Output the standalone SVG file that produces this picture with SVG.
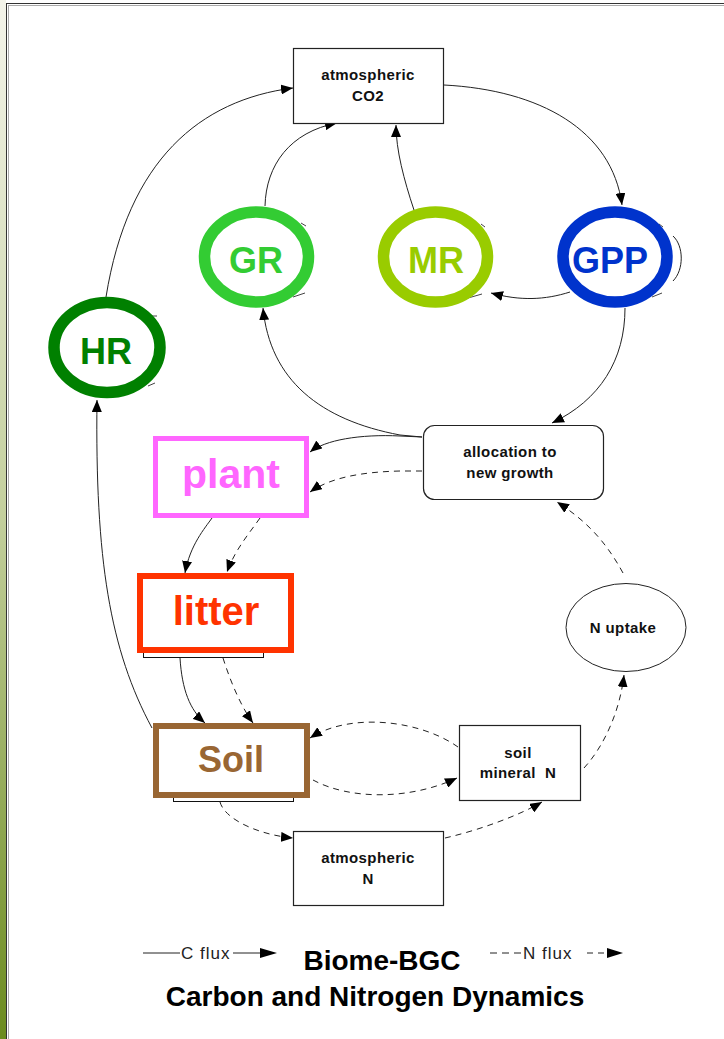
<svg xmlns="http://www.w3.org/2000/svg" width="724" height="1039" viewBox="0 0 724 1039">
<defs>
<linearGradient id="strip" x1="0" y1="0" x2="0" y2="1">
<stop offset="0" stop-color="#f4f4ea"/>
<stop offset="0.5" stop-color="#c3cf9c"/>
<stop offset="1" stop-color="#6b8b1e"/>
</linearGradient>
<marker id="ah" viewBox="0 0 12 10" refX="12" refY="5" markerWidth="12" markerHeight="10" markerUnits="userSpaceOnUse" orient="auto">
<path d="M0,0 L12,5 L0,10 Z" fill="#000"/>
</marker>
<style>
.box{fill:#fff;stroke:#222;stroke-width:1.2}
.sm{font-family:"Liberation Sans",Arial,sans-serif;font-weight:bold;font-size:15px;letter-spacing:0.4px;fill:#111;text-anchor:middle}
.big{font-family:"Liberation Sans",Arial,sans-serif;font-weight:bold;text-anchor:middle}
.lg{font-family:"Liberation Sans",Arial,sans-serif;font-size:17px;letter-spacing:1px;fill:#222}
.c{fill:none;stroke:#222;stroke-width:1}
.n{fill:none;stroke:#222;stroke-width:1;stroke-dasharray:6 5}
.tk{stroke:#444;stroke-width:1}
.ring{fill:#fff;stroke-width:11.5}
</style>
</defs>
<rect x="0" y="0" width="724" height="1039" fill="#fff"/>
<rect x="0" y="0" width="6" height="1039" fill="url(#strip)"/>
<rect x="6.5" y="3.5" width="730" height="1050" fill="none" stroke="#333" stroke-width="1"/>
<rect x="8.5" y="5.5" width="730" height="1050" fill="none" stroke="#aaa" stroke-width="1"/>

<g id="connectors">
<path class="c" d="M106,297 C128,160 200,100 293,88" marker-end="url(#ah)"/>
<path class="c" d="M265,206 C266,165 290,132 337,123" marker-end="url(#ah)"/>
<path class="c" d="M414,210 C404,180 396,150 396,125" marker-end="url(#ah)"/>
<path class="c" d="M444,85 C540,90 612,130 622,205" marker-end="url(#ah)"/>
<path class="c" d="M570,292 C545,300 520,301 491,293" marker-end="url(#ah)"/>
<path class="c" d="M625,308 C625,360 600,400 552,423" marker-end="url(#ah)"/>
<path class="c" d="M422,437 L400,435 C320,420 270,380 263,308" marker-end="url(#ah)"/>
<path class="c" d="M422,437 L400,436 C360,434 325,440 310,452" marker-end="url(#ah)"/>
<path class="n" d="M422,471 L400,471 C360,472 330,478 310,492" marker-end="url(#ah)"/>
<path class="c" d="M212,518 C205,528 190,545 185,573" marker-end="url(#ah)"/>
<path class="n" d="M260,518 C248,535 235,550 227,572" marker-end="url(#ah)"/>
<path class="c" d="M180,658 C182,690 190,710 205,723" marker-end="url(#ah)"/>
<path class="n" d="M223,658 C230,680 240,705 253,723" marker-end="url(#ah)"/>
<path class="c" d="M152,728 C110,650 95,560 97,400" marker-end="url(#ah)"/>
<path class="n" d="M458,747 C420,720 350,712 310,738" marker-end="url(#ah)"/>
<path class="n" d="M313,780 C350,800 410,800 457,778" marker-end="url(#ah)"/>
<path class="n" d="M220,802 C225,820 260,835 293,838" marker-end="url(#ah)"/>
<path class="n" d="M445,838 C480,830 520,815 542,802" marker-end="url(#ah)"/>
<path class="n" d="M584,768 C605,745 620,710 624,675" marker-end="url(#ah)"/>
<path class="n" d="M623,573 C605,540 585,520 557,502" marker-end="url(#ah)"/>
<path class="c" d="M673,236 C684,246 684,270 673,281"/>
<line class="tk" x1="301" y1="223" x2="306" y2="226"/>
<line class="tk" x1="293" y1="297" x2="305" y2="293"/>
<line class="tk" x1="481" y1="224" x2="485" y2="227"/>
<line class="tk" x1="468" y1="298" x2="482" y2="294"/>
<line class="tk" x1="659" y1="224" x2="663" y2="227"/>
<line class="tk" x1="652" y1="297" x2="662" y2="293"/>
<line class="tk" x1="151" y1="316" x2="157" y2="316"/>
<line class="tk" x1="148" y1="386" x2="155" y2="383"/>
</g>

<g id="atm-co2">
<rect class="box" x="293.5" y="48.5" width="150" height="75"/>
<text class="sm" x="368" y="80">atmospheric</text>
<text class="sm" x="368" y="101">CO2</text>
</g>
<g id="GR">
<ellipse class="ring" cx="256.5" cy="257" rx="52" ry="45" stroke="#33cc33"/>
<text class="big" x="256" y="273" font-size="36" fill="#33cc33">GR</text>
</g>
<g id="MR">
<ellipse class="ring" cx="435.5" cy="257" rx="52" ry="45" stroke="#99cc00"/>
<text class="big" x="436" y="273" font-size="36" fill="#99cc00">MR</text>
</g>
<g id="GPP">
<ellipse class="ring" cx="615" cy="257" rx="52" ry="45" stroke="#0033cc"/>
<text class="big" x="610" y="273" font-size="36" fill="#0033cc">GPP</text>
</g>
<g id="HR">
<ellipse class="ring" cx="107" cy="347.5" rx="53" ry="45" stroke="#008000"/>
<text class="big" x="106" y="364" font-size="36" fill="#008000">HR</text>
</g>
<g id="allocation">
<rect class="box" x="423.5" y="425.5" width="180" height="74" rx="11"/>
<text class="sm" x="510" y="457">allocation to</text>
<text class="sm" x="510" y="478">new growth</text>
</g>
<g id="plant">
<rect x="155.5" y="438.5" width="151" height="77" fill="#fff" stroke="#ff66ff" stroke-width="5"/>
<text class="big" x="231" y="488" font-size="41" fill="#ff66ff">plant</text>
</g>
<g id="litter">
<rect x="143.5" y="600.5" width="120" height="57" fill="none" stroke="#111" stroke-width="1"/>
<rect x="140" y="576" width="151" height="74" fill="#fff" stroke="#ff3300" stroke-width="6"/>
<text class="big" x="216" y="625" font-size="40" fill="#ff3300">litter</text>
</g>
<g id="soil">
<rect x="173.5" y="745.5" width="120" height="56" fill="none" stroke="#111" stroke-width="1"/>
<rect x="156" y="726" width="151" height="69" fill="#fff" stroke="#996633" stroke-width="6"/>
<text class="big" x="231" y="772" font-size="36" fill="#996633">Soil</text>
</g>
<g id="n-uptake">
<ellipse cx="626" cy="627.5" rx="60" ry="44" fill="#fff" stroke="#222" stroke-width="1"/>
<text class="sm" x="623" y="633">N uptake</text>
</g>
<g id="soil-mineral-n">
<rect class="box" x="459.5" y="725.5" width="121" height="75"/>
<text class="sm" x="518" y="758">soil</text>
<text class="sm" x="518" y="778" xml:space="preserve">mineral  N</text>
</g>
<g id="atm-n">
<rect class="box" x="293.5" y="831.5" width="150" height="74"/>
<text class="sm" x="368" y="863">atmospheric</text>
<text class="sm" x="368" y="884">N</text>
</g>

<g id="legend">
<line x1="143" y1="953" x2="180" y2="953" stroke="#222" stroke-width="1"/>
<text class="lg" x="181" y="959">C flux</text>
<line x1="233" y1="953" x2="262" y2="953" stroke="#222" stroke-width="1"/>
<path d="M260,948 L277,953 L260,958 Z" fill="#000"/>
<line x1="490" y1="953" x2="522" y2="953" stroke="#222" stroke-width="1" stroke-dasharray="7 5"/>
<text class="lg" x="523" y="959">N flux</text>
<line x1="587" y1="953" x2="610" y2="953" stroke="#222" stroke-width="1" stroke-dasharray="6 5"/>
<path d="M607,948 L623,953 L607,958 Z" fill="#000"/>
<text class="big" x="382" y="970" font-size="28" fill="#000">Biome-BGC</text>
<text class="big" x="375" y="1006" font-size="28" fill="#000">Carbon and Nitrogen Dynamics</text>
</g>
</svg>
